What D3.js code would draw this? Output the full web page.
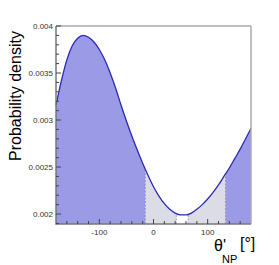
<!DOCTYPE html>
<html><head><meta charset="utf-8">
<script src="https://cdn.jsdelivr.net/npm/d3@7"></script>
<style>body{margin:0;background:#fff}svg{display:block}</style>
</head><body>
<script>
const thetaDeg = [-180,-170,-160,-150,-140,-130,-120,-110,-100,-90,-80,-70,-60,-50,-40,-30,-20,-10,0,10,20,30,40,50,60,70,80,90,100,110,120,130,140,150,160,170,180];
const density = [0.00316,0.00342,0.00364,0.00379,0.00387,0.00390,0.00388,0.00383,0.00375,0.00364,0.00350,0.00334,0.00316,0.00299,0.00283,0.00268,0.00254,0.00241,0.00229,0.00219,0.00211,0.00205,0.00201,0.00199,0.00199,0.00201,0.00205,0.00210,0.00216,0.00223,0.00231,0.00240,0.00249,0.00259,0.00269,0.00280,0.00291];
const outerBounds = [-15, 133];   // dark regions outside
const gapBounds = [42, 64];       // white gap
const xTicks = [-100, 0, 100];
const yTicks = [0.002, 0.0025, 0.003, 0.0035, 0.004];
const yTickLabels = ["0.002","0.0025","0.003","0.0035","0.004"];

const W = 279, H = 265;
const L = 56, R = 251, T = 26, B = 224;
const svg = d3.select("body").append("svg").attr("width", W).attr("height", H);
const x = d3.scaleLinear().domain([-180, 180]).range([L, R]);
const y = d3.scaleLinear().domain([0.001894, 0.004]).range([B, T]);
const data = thetaDeg.map((t, i) => ({t, v: density[i]}));
const curve = d3.curveMonotoneX;

function region(a, b, fill, id) {
  svg.append("clipPath").attr("id", id).append("rect")
    .attr("x", x(a)).attr("y", T).attr("width", x(b) - x(a)).attr("height", B - T);
  svg.append("path").datum(data)
    .attr("d", d3.area().x(d => x(d.t)).y0(B).y1(d => y(d.v)).curve(curve))
    .attr("fill", fill).attr("clip-path", `url(#${id})`);
}
region(-180, outerBounds[0], "#9a9ae6", "c1");
region(outerBounds[0], gapBounds[0], "#dcdce6", "c2");
region(gapBounds[1], outerBounds[1], "#dcdce6", "c3");
region(outerBounds[1], 180, "#9a9ae6", "c4");

const dashG = svg.append("g");
const pathEl = svg.append("path").datum(data)
  .attr("d", d3.line().x(d => x(d.t)).y(d => y(d.v)).curve(curve))
  .attr("fill", "none").attr("stroke", "#2a2ab4").attr("stroke-width", 1.3);
const node = pathEl.node();
const len = node.getTotalLength();
function yAt(px) {
  let lo = 0, hi = len;
  for (let k = 0; k < 40; k++) {
    const m = (lo + hi) / 2;
    if (node.getPointAtLength(m).x < px) lo = m; else hi = m;
  }
  return node.getPointAtLength(lo).y;
}
[outerBounds[0], gapBounds[0], gapBounds[1], outerBounds[1]].forEach(b => {
  dashG.append("line")
    .attr("x1", x(b)).attr("x2", x(b)).attr("y1", B).attr("y2", yAt(x(b)))
    .attr("stroke", "#8888aa").attr("stroke-width", 0.8).attr("stroke-dasharray", "2,1.5");
});

// frame
svg.append("line").attr("x1", L).attr("x2", R).attr("y1", T).attr("y2", T).attr("stroke", "#aaa").attr("stroke-width", 1.5);
svg.append("line").attr("x1", R).attr("x2", R).attr("y1", T).attr("y2", B).attr("stroke", "#aaa").attr("stroke-width", 1.5);
svg.append("line").attr("x1", L).attr("x2", L).attr("y1", T).attr("y2", B + 0.75).attr("stroke", "#777").attr("stroke-width", 1.5);
svg.append("line").attr("x1", L).attr("x2", R).attr("y1", B).attr("y2", B).attr("stroke", "#777").attr("stroke-width", 1.5);

// ticks
const g = svg.append("g").attr("stroke", "#444").attr("stroke-width", 1);
d3.range(-160, 180, 20).forEach(t => {
  const major = xTicks.includes(t);
  g.append("line").attr("x1", x(t)).attr("x2", x(t)).attr("y1", B).attr("y2", B - (major ? 5 : 3));
});
d3.range(0.0019, 0.00401, 0.0001).forEach(v => {
  const vv = Math.round(v * 10000) / 10000;
  const major = yTicks.some(t => Math.abs(t - vv) < 1e-9);
  if (y(vv) < T - 0.5 || y(vv) > B) return;
  g.append("line").attr("x1", L).attr("x2", L + (major ? 5 : 3)).attr("y1", y(vv)).attr("y2", y(vv));
});

// labels
const font = "Liberation Sans, Arial, sans-serif";
xTicks.forEach(t => svg.append("text").attr("x", x(t)).attr("y", 235).attr("text-anchor", "middle")
  .attr("font-family", font).attr("font-size", 8).attr("fill", "#333").text(t));
yTicks.forEach((t, i) => svg.append("text").attr("x", 53).attr("y", y(t) + 3).attr("text-anchor", "end")
  .attr("font-family", font).attr("font-size", 8).attr("fill", "#333").text(yTickLabels[i]));

svg.append("text").attr("transform", "translate(21,96) rotate(-90)").attr("text-anchor", "middle")
  .attr("font-family", font).attr("font-size", 16).attr("fill", "#000").text("Probability density");

svg.append("text").attr("x", 214).attr("y", 251).attr("font-family", font).attr("font-size", 16).text("θ'");
svg.append("text").attr("x", 222).attr("y", 263).attr("font-family", font).attr("font-size", 11).text("NP");
svg.append("text").attr("x", 240).attr("y", 249).attr("font-family", font).attr("font-size", 16).text("[°]");
</script>
</body></html>
